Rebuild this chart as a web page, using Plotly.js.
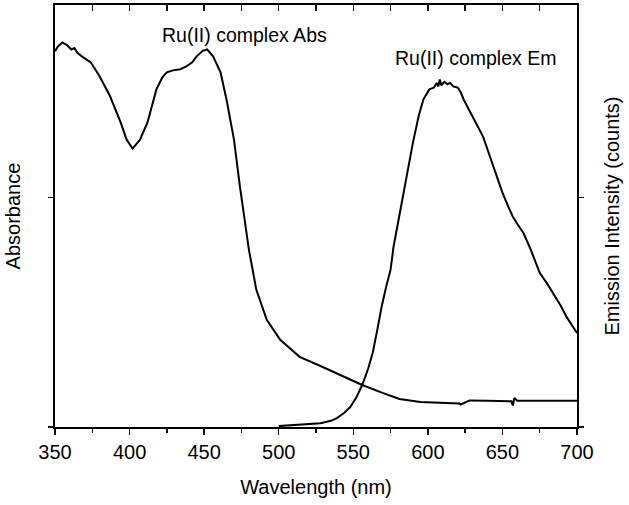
<!DOCTYPE html>
<html>
<head>
<meta charset="utf-8">
<script src="https://cdn.plot.ly/plotly-3.0.1.min.js"></script>
<style>
  html, body { margin: 0; padding: 0; background: #fff; }
  #chart { width: 629px; height: 505px; }
</style>
</head>
<body>
<div id="chart"></div>
<script>
// absorption spectrum
var absWavelength = [350, 352, 355, 358, 361, 363, 365, 368, 374, 380, 387, 394, 398, 402, 407, 412, 418, 422, 425, 429, 434, 438, 442, 445, 449, 452, 456, 461, 465, 470, 474, 480, 485, 492, 501, 514, 528, 541, 556, 570, 581, 595, 610, 621, 622, 625, 628, 640, 655, 656, 657, 658, 660, 680, 700];
var absValues = [1.638, 1.66, 1.677, 1.665, 1.646, 1.652, 1.632, 1.616, 1.590, 1.528, 1.441, 1.328, 1.253, 1.214, 1.253, 1.328, 1.472, 1.525, 1.546, 1.555, 1.56, 1.572, 1.59, 1.616, 1.64, 1.646, 1.616, 1.546, 1.428, 1.253, 1.048, 0.773, 0.598, 0.467, 0.380, 0.306, 0.266, 0.227, 0.183, 0.148, 0.122, 0.109, 0.107, 0.103, 0.098, 0.106, 0.116, 0.114, 0.113, 0.112, 0.094, 0.127, 0.114, 0.115, 0.115];

// emission spectrum
var emWavelength = [500, 514, 528, 535, 539, 544, 548, 552, 556, 560, 563, 566, 569, 572, 575, 577, 580, 583, 586, 590, 594, 597, 601, 604, 606, 607, 608, 609, 611, 613, 615, 617, 620, 622, 624, 627, 630, 633, 637, 640, 644, 647, 650, 654, 657, 660, 664, 669, 675, 680, 684, 689, 693, 697, 700];
var emValues = [0.004, 0.009, 0.016, 0.027, 0.039, 0.062, 0.087, 0.128, 0.183, 0.255, 0.323, 0.42, 0.524, 0.61, 0.686, 0.786, 0.89, 0.991, 1.10, 1.240, 1.36, 1.428, 1.472, 1.48, 1.50, 1.485, 1.515, 1.49, 1.505, 1.495, 1.50, 1.485, 1.48, 1.46, 1.428, 1.39, 1.354, 1.32, 1.266, 1.21, 1.135, 1.08, 1.022, 0.96, 0.917, 0.885, 0.847, 0.773, 0.672, 0.625, 0.585, 0.53, 0.480, 0.44, 0.410];

var xTickVals = [350, 400, 450, 500, 550, 600, 650, 700];
var xTopTickVals = [350, 375, 400, 425, 450, 475, 500, 525, 550, 575, 600, 625, 650, 675, 700];

var fontFamily = '"Liberation Sans", Arial, sans-serif';

var data = [
    {
        x: absWavelength,
        y: absValues,
        type: 'scatter',
        mode: 'lines',
        line: { color: '#000', width: 2 },
        name: 'Ru(II) complex Abs'
    },
    {
        x: emWavelength,
        y: emValues,
        type: 'scatter',
        mode: 'lines',
        xaxis: 'x2',
        yaxis: 'y2',
        line: { color: '#000', width: 2 },
        name: 'Ru(II) complex Em'
    }
];

var layout = {
    width: 629,
    height: 505,
    margin: { l: 55, r: 52, t: 5, b: 78 },
    paper_bgcolor: '#fff',
    plot_bgcolor: '#fff',
    showlegend: false,
    font: { family: fontFamily, size: 20, color: '#000' },
    xaxis: {
        range: [350, 700],
        tickmode: 'array',
        tickvals: xTickVals,
        ticks: 'outside',
        ticklen: 6,
        tickwidth: 1.5,
        tickcolor: '#000',
        minor: { tickmode: 'linear', tick0: 350, dtick: 25, ticks: 'outside', ticklen: 4, tickwidth: 1.5, tickcolor: '#000', showgrid: false },
        showline: true,
        linecolor: '#000',
        linewidth: 2,
        showgrid: false,
        zeroline: false,
        tickfont: { size: 20 },
        title: { text: 'Wavelength (nm)', font: { size: 20 }, standoff: 18 }
    },
    xaxis2: {
        overlaying: 'x',
        anchor: 'y2',
        side: 'top',
        range: [350, 700],
        tickmode: 'array',
        tickvals: xTopTickVals,
        ticks: 'inside',
        ticklen: 6,
        tickwidth: 1.5,
        tickcolor: '#000',
        showticklabels: false,
        showline: true,
        linecolor: '#000',
        linewidth: 2,
        showgrid: false,
        zeroline: false
    },
    yaxis: {
        range: [0, 1.84],
        dtick: 1,
        ticks: 'outside',
        ticklen: 5,
        tickwidth: 1.5,
        tickcolor: '#000',
        showticklabels: false,
        showline: true,
        linecolor: '#000',
        linewidth: 2,
        showgrid: false,
        zeroline: false,
        title: { text: 'Absorbance', font: { size: 20 }, standoff: 22 }
    },
    yaxis2: {
        overlaying: 'y',
        anchor: 'x2',
        side: 'right',
        range: [0, 1.84],
        dtick: 1,
        ticks: 'outside',
        ticklen: 5,
        tickwidth: 1.5,
        tickcolor: '#000',
        showticklabels: false,
        showline: true,
        linecolor: '#000',
        linewidth: 2,
        showgrid: false,
        zeroline: false,
        title: { text: 'Emission Intensity (counts)', font: { size: 20 }, standoff: 22 }
    },
    annotations: [
        {
            x: 477, y: 1.71, xref: 'x', yref: 'y',
            text: 'Ru(II) complex Abs', showarrow: false,
            font: { size: 19.5 }
        },
        {
            x: 632, y: 1.61, xref: 'x', yref: 'y',
            text: 'Ru(II) complex Em', showarrow: false,
            font: { size: 19.5 }
        }
    ]
};

Plotly.newPlot('chart', data, layout, { staticPlot: true });
</script>
</body>
</html>
